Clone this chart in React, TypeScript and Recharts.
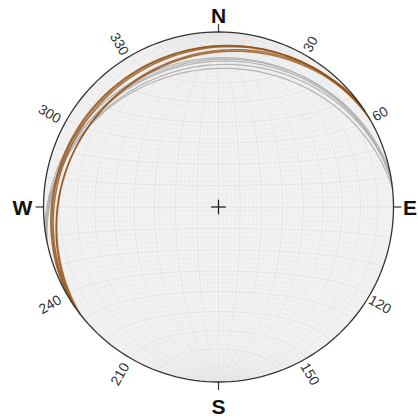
import { ComposedChart, Area, Line, Scatter, XAxis, YAxis } from "recharts";

// planes (dip direction / dip, degrees)
const brownDipDirs = [330, 327, 325, 325, 322];
const brownDips = [10, 10.5, 11.5, 15, 14.5];
const grayDipDirs = [352, 350, 350, 354, 348];
const grayDips = [16, 18, 20, 22, 17];

const azimuthTicks = [30, 60, 120, 150, 210, 240, 300, 330];
const cardinalLabels = ["N", "E", "S", "W"];
const cardinalAz = [0, 90, 180, 270];

const gridStep = 2;
const majorStep = 10;

const W = 418;
const H = 419;
const CX = 218.5;
const CY = 207;
const RAD = 175;

// label placement (in net radii)
const cardinalR = [1.094, 1.094, 1.14, 1.12];
const azLabelR = 1.089;
const azLabelDx = -0.02;
const azLabelDy = -0.011;

const D2R = Math.PI / 180;

type Pt = { x: number; y: number };

// lower hemisphere equal-area projection of (north, east, down)
function project(n: number, e: number, d: number): Pt {
  if (d < 0) { n = -n; e = -e; d = -d; }
  const plunge = Math.asin(Math.min(1, d));
  const trend = Math.atan2(e, n);
  const r = Math.SQRT2 * Math.sin((Math.PI / 2 - plunge) / 2);
  return { x: r * Math.sin(trend), y: r * Math.cos(trend) };
}

function greatCircle(dipDir: number, dip: number, step = 3): Pt[] {
  const s = [Math.cos((dipDir - 90) * D2R), Math.sin((dipDir - 90) * D2R), 0];
  const dv = [
    Math.cos(dip * D2R) * Math.cos(dipDir * D2R),
    Math.cos(dip * D2R) * Math.sin(dipDir * D2R),
    Math.sin(dip * D2R),
  ];
  const pts: Pt[] = [];
  for (let t = 0; t <= 180; t += step) {
    const c = Math.cos(t * D2R), sn = Math.sin(t * D2R);
    pts.push(project(c * s[0] + sn * dv[0], c * s[1] + sn * dv[1], c * s[2] + sn * dv[2]));
  }
  return pts;
}

// cone about the N-S axis
function smallCircle(alpha: number): Pt[] {
  const pts: Pt[] = [];
  for (let p = 0; p <= 180; p += 4) {
    pts.push(project(
      Math.cos(alpha * D2R),
      Math.sin(alpha * D2R) * Math.cos(p * D2R),
      Math.sin(alpha * D2R) * Math.sin(p * D2R),
    ));
  }
  return pts;
}

function circlePts(r: number): Pt[] {
  const pts: Pt[] = [];
  for (let a = 0; a <= 360; a += 2) pts.push({ x: r * Math.sin(a * D2R), y: r * Math.cos(a * D2R) });
  return pts;
}

// disk fill as a ranged area
const diskFill: { x: number; band: [number, number] }[] = [];
for (let a = 180; a >= 0; a -= 2) {
  const x = Math.cos(a * D2R);
  const h = Math.sin(a * D2R);
  diskFill.push({ x, band: [-h, h] });
}

const gridLines: { key: string; pts: Pt[]; major: boolean }[] = [];
for (let dip = gridStep; dip < 90; dip += gridStep) {
  gridLines.push({ key: `me${dip}`, pts: greatCircle(90, dip), major: dip % majorStep === 0 });
  gridLines.push({ key: `mw${dip}`, pts: greatCircle(270, dip), major: dip % majorStep === 0 });
}
gridLines.push({ key: "m90", pts: greatCircle(90, 90), major: true });
for (let a = gridStep; a < 180; a += gridStep) {
  gridLines.push({ key: `sc${a}`, pts: smallCircle(a), major: a % majorStep === 0 });
}

const planes = [
  ...grayDipDirs.map((dd, i) => ({ key: `g${i}`, pts: greatCircle(dd, grayDips[i], 2), color: "#adadad", w: 1.2, op: 0.9 })),
  ...brownDipDirs.map((dd, i) => ({ key: `b${i}`, pts: greatCircle(dd, brownDips[i], 2), color: "#945418", w: 1.5, op: 0.8 })),
];

const azLabelData = azimuthTicks.map((az) => {
  let rot = az - 90;
  if (rot > 90) rot -= 180;
  return {
    x: azLabelDx + azLabelR * Math.sin(az * D2R),
    y: azLabelDy + azLabelR * Math.cos(az * D2R),
    label: String(az),
    rot,
  };
});
const cardData = cardinalLabels.map((l, i) => ({
  x: cardinalR[i] * Math.sin(cardinalAz[i] * D2R),
  y: cardinalR[i] * Math.cos(cardinalAz[i] * D2R),
  label: l,
}));
const cardTicks = cardinalAz.map((az) => [
  { x: Math.sin(az * D2R), y: Math.cos(az * D2R) },
  { x: 1.045 * Math.sin(az * D2R), y: 1.045 * Math.cos(az * D2R) },
]);

const xDomain: [number, number] = [-CX / RAD, (W - CX) / RAD];
const yDomain: [number, number] = [-(H - CY) / RAD, CY / RAD];

const FONT = "'Liberation Sans', Arial, Helvetica, sans-serif";

export default function App() {
  return (
    <div style={{ position: "fixed", left: 0, top: 0, width: W, height: H, background: "#fff" }}>
      <ComposedChart width={W} height={H} margin={{ top: 0, right: 0, bottom: 0, left: 0 }}>
        <XAxis type="number" dataKey="x" domain={xDomain} hide allowDataOverflow />
        <YAxis type="number" dataKey="y" domain={yDomain} hide allowDataOverflow />
        <Area
          data={diskFill}
          dataKey="band"
          type="linear"
          stroke="none"
          fill="#f3f3f3"
          fillOpacity={1}
          dot={false}
          activeDot={false}
          isAnimationActive={false}
        />
        {gridLines.map((g) => (
          <Line
            key={g.key}
            data={g.pts}
            dataKey="y"
            dot={false}
            activeDot={false}
            stroke={g.major ? "#e0e0e0" : "#e7e7e7"}
            strokeWidth={g.major ? 0.8 : 0.5}
            isAnimationActive={false}
          />
        ))}
        {planes.map((p) => (
          <Line
            key={p.key}
            data={p.pts}
            dataKey="y"
            dot={false}
            activeDot={false}
            stroke={p.color}
            strokeOpacity={p.op}
            strokeWidth={p.w}
            isAnimationActive={false}
          />
        ))}
        <Line data={circlePts(1)} dataKey="y" dot={false} activeDot={false} stroke="#333" strokeWidth={1.3} isAnimationActive={false} />
        {cardTicks.map((t, i) => (
          <Line key={`t${i}`} data={t} dataKey="y" dot={false} activeDot={false} stroke="#333" strokeWidth={1.2} isAnimationActive={false} />
        ))}
        <Line data={[{ x: -0.042, y: 0 }, { x: 0.042, y: 0 }]} dataKey="y" dot={false} activeDot={false} stroke="#222" strokeWidth={1.3} isAnimationActive={false} />
        <Line data={[{ x: 0, y: -0.042 }, { x: 0, y: 0.042 }]} dataKey="y" dot={false} activeDot={false} stroke="#222" strokeWidth={1.3} isAnimationActive={false} />
        <Scatter
          data={azLabelData}
          isAnimationActive={false}
          shape={(p: any) => (
            <text
              x={p.cx}
              y={p.cy}
              transform={`rotate(${p.payload.rot}, ${p.cx}, ${p.cy})`}
              textAnchor="middle"
              dominantBaseline="central"
              fontFamily={FONT}
              fontSize={14}
              fill="#333"
            >
              {p.payload.label}
            </text>
          )}
        />
        <Scatter
          data={cardData}
          isAnimationActive={false}
          shape={(p: any) => (
            <text
              x={p.cx}
              y={p.cy}
              textAnchor="middle"
              dominantBaseline="central"
              fontFamily={FONT}
              fontWeight="bold"
              fontSize={21}
              fill="#111"
            >
              {p.payload.label}
            </text>
          )}
        />
      </ComposedChart>
    </div>
  );
}
